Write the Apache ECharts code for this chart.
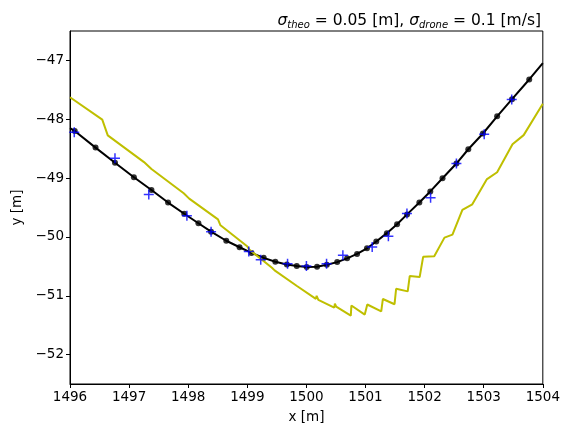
<!DOCTYPE html>
<html>
<head>
<meta charset="utf-8">
<script src="https://cdn.jsdelivr.net/npm/echarts@6/dist/echarts.min.js"></script>
<style>html,body{margin:0;padding:0;background:#fff}#c{width:563px;height:429px}</style>
</head>
<body>
<div id="c"></div>
<script>
// Trajectory (black line with dots)
var dotsX = [1496.08,1496.432,1496.761,1497.081,1497.378,1497.659,1497.933,1498.173,1498.387,1498.644,1498.869,1499.071,1499.277,1499.474,1499.669,1499.837,1500.005,1500.180,1500.345,1500.521,1500.689,1500.857,1501.025,1501.182,1501.361,1501.534,1501.703,1501.911,1502.096,1502.303,1502.538,1502.739,1502.987,1503.227,1503.479,1503.770];
var dotsY = [-48.20,-48.482,-48.740,-48.985,-49.203,-49.416,-49.606,-49.768,-49.911,-50.065,-50.176,-50.272,-50.356,-50.423,-50.468,-50.495,-50.512,-50.507,-50.473,-50.428,-50.364,-50.289,-50.193,-50.079,-49.936,-49.785,-49.617,-49.416,-49.227,-49.002,-48.753,-48.510,-48.242,-47.951,-47.659,-47.324];
var lineStart = [1496.0, -48.15];
var lineEnd = [1504.0, -47.045];
// Measurements (blue +)
var measX = [1496.072,1496.761,1497.333,1497.978,1498.387,1499.025,1499.227,1499.681,1500.000,1500.341,1500.617,1501.113,1501.387,1501.701,1502.101,1502.538,1503.008,1503.474];
var measY = [-48.220,-48.661,-49.277,-49.639,-49.914,-50.247,-50.389,-50.456,-50.493,-50.456,-50.310,-50.171,-49.987,-49.601,-49.336,-48.750,-48.253,-47.664];
// Estimate (yellow line)
var estX = [1496.000,1496.546,1496.639,1497.252,1497.378,1497.924,1498.017,1498.504,1498.546,1498.997,1499.034,1499.417,1499.462,1499.840,1499.857,1500.160,1500.173,1500.202,1500.471,1500.482,1500.504,1500.751,1500.761,1500.987,1501.030,1501.266,1501.294,1501.491,1501.518,1501.714,1501.748,1501.916,1501.975,1502.163,1502.336,1502.471,1502.639,1502.807,1503.050,1503.227,1503.487,1503.676,1504.000];
var estY = [-47.626,-48.007,-48.275,-48.728,-48.846,-49.257,-49.349,-49.701,-49.802,-50.159,-50.216,-50.523,-50.569,-50.834,-50.826,-51.052,-51.002,-51.069,-51.203,-51.136,-51.186,-51.337,-51.166,-51.320,-51.149,-51.267,-51.055,-51.144,-50.881,-50.926,-50.666,-50.683,-50.339,-50.327,-50.012,-49.961,-49.542,-49.445,-49.022,-48.901,-48.426,-48.270,-47.738];
var xTicks = [1496,1497,1498,1499,1500,1501,1502,1503,1504];
var yTicks = [-52,-51,-50,-49,-48,-47];

function zip(a,b){return a.map(function(v,i){return [v,b[i]];});}
var lineData = [lineStart].concat(zip(dotsX,dotsY)).concat([lineEnd]);
var plusPath = 'path://M8.5,0 H11.5 V8.5 H20 V11.5 H11.5 V20 H8.5 V11.5 H0 V8.5 H8.5 Z';
var FONT = 'DejaVu Sans';
function fmt(v){return v<0 ? '\u2212'+Math.abs(v) : String(v);}

var chart = echarts.init(document.getElementById('c'), null, {renderer:'canvas'});
chart.setOption({
  animation:false,
  backgroundColor:'#fff',
  title:{
    text:'{s|σ}{sub|theo}{n| = 0.05 [m], }{s|σ}{sub|drone}{n| = 0.1 [m/s]}',
    right:17, top:7,
    textStyle:{
      fontWeight:'normal',
      rich:{
        s:{fontFamily:FONT,fontSize:15.5,fontStyle:'italic',fontWeight:'normal',color:'#000'},
        sub:{fontFamily:FONT,fontSize:10,fontStyle:'italic',fontWeight:'normal',color:'#000',padding:[8,0,0,0]},
        n:{fontFamily:FONT,fontSize:15.5,fontWeight:'normal',color:'#000'}
      }
    }
  },
  grid:{left:70,right:17,top:31,bottom:41,show:true,borderColor:'#000',borderWidth:1,backgroundColor:'transparent'},
  xAxis:{
    type:'value',min:1496,max:1504,
    name:'x [m]',nameLocation:'middle',nameGap:26,
    nameTextStyle:{fontFamily:FONT,fontSize:13.5,color:'#000'},
    axisLine:{show:true,lineStyle:{color:'#000',width:1}},
    axisTick:{show:true,length:4,lineStyle:{color:'#000'},customValues:xTicks},
    axisLabel:{fontFamily:FONT,fontSize:13.5,color:'#000',margin:6,customValues:xTicks,formatter:fmt},
    splitLine:{show:false}
  },
  yAxis:{
    type:'value',min:-52.5,max:-46.5,
    name:'y [m]',nameLocation:'middle',nameGap:42,nameRotate:90,
    nameTextStyle:{fontFamily:FONT,fontSize:13.5,color:'#000'},
    axisLine:{show:true,lineStyle:{color:'#000',width:1}},
    axisTick:{show:true,length:4,lineStyle:{color:'#000'},customValues:yTicks},
    axisLabel:{fontFamily:FONT,fontSize:13.5,color:'#000',margin:6,customValues:yTicks,formatter:fmt},
    splitLine:{show:false}
  },
  series:[
    {type:'line',data:lineData,showSymbol:false,symbol:'none',lineStyle:{color:'#000',width:2},z:2,clip:true},
    {type:'scatter',data:zip(dotsX,dotsY),symbol:'circle',symbolSize:6,itemStyle:{color:'#000'},z:3},
    {type:'line',data:zip(estX,estY),showSymbol:false,symbol:'none',lineStyle:{color:'#bfbf00',width:2},z:4,clip:true},
    {type:'scatter',data:zip(measX,measY),symbol:plusPath,symbolSize:10,itemStyle:{color:'#0000ff'},z:5}
  ]
});
</script>
</body>
</html>
